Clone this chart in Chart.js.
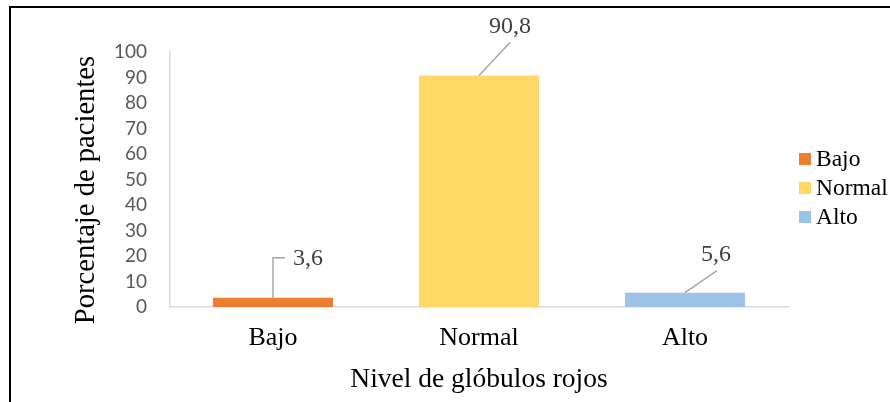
<!DOCTYPE html>
<html lang="es">

<head>
  <meta charset="UTF-8">
  <title>Nivel de glóbulos rojos</title>
  <script src="https://cdn.jsdelivr.net/npm/chart.js"></script>
  <style>
    body { margin: 0; background: #fff; overflow: hidden; }
    .marco { position: absolute; left: 9px; top: 6px; width: 1000px; height: 500px;
      border-top: 2px solid #000; border-left: 2px solid #000; }
    canvas { position: absolute; left: 0; top: 0; }
  </style>
</head>

<body>
  <div class="marco"></div>
  <canvas id="myChart" width="890" height="402"></canvas>

<script>
  // datos
  const categorias = ['Bajo', 'Normal', 'Alto'];
  const porcentajes = [3.6, 90.8, 5.6];
  const etiquetas = ['3,6', '90,8', '5,6'];
  const ticksY = [0, 10, 20, 30, 40, 50, 60, 70, 80, 90, 100];
  const tituloY = 'Porcentaje de pacientes';

  const colores = ['#ED7D31', '#FFD966', '#9DC3E6'];
  const serif = '"Liberation Serif", "Times New Roman", serif';

  // desplazamiento de cada etiqueta respecto a la parte superior de su barra
  // tipo 'codo' = linea vertical + horizontal, 'recta' = linea diagonal
  const guias = [
    { tipo: 'codo', fx: 12, fy: -40, tx: 35, ty: -39 },
    { tipo: 'recta', fx: 31, fy: -33, tx: 31, ty: -49 },
    { tipo: 'recta', fx: 32, fy: -22, tx: 31, ty: -38 }
  ];

  const pluginEtiquetas = {
    id: 'etiquetas',
    afterDatasetsDraw(chart) {
      const ctx = chart.ctx;
      const barras = chart.getDatasetMeta(0).data;
      ctx.save();
      barras.forEach(function (b, i) {
        const g = guias[i];
        ctx.strokeStyle = '#A6A6A6';
        ctx.lineWidth = 1.5;
        ctx.beginPath();
        ctx.moveTo(b.x, b.y);
        if (g.tipo == 'codo') {
          ctx.lineTo(b.x, b.y + g.fy);
          ctx.lineTo(b.x + g.fx, b.y + g.fy);
        } else {
          ctx.lineTo(b.x + g.fx, b.y + g.fy);
        }
        ctx.stroke();
        ctx.fillStyle = '#404040';
        ctx.font = '24px ' + serif;
        ctx.textAlign = 'center';
        ctx.textBaseline = 'middle';
        ctx.fillText(etiquetas[i], b.x + g.tx, b.y + g.ty);
      });
      ctx.restore();
    }
  };

  // leyenda y titulo del eje Y dibujados a mano
  const pluginLeyenda = {
    id: 'leyenda',
    afterDraw(chart) {
      const ctx = chart.ctx;
      const x = chart.chartArea.right + 11;
      ctx.save();
      ctx.font = '23.5px ' + serif;
      ctx.textAlign = 'left';
      ctx.textBaseline = 'middle';
      categorias.forEach(function (c, i) {
        const y = 159 + i * 29;
        ctx.fillStyle = colores[i];
        ctx.fillRect(x, y - 6, 12, 12);
        ctx.fillStyle = '#000';
        ctx.fillText(c, x + 17, y + 1);
      });

      ctx.translate(86, 190);
      ctx.rotate(-Math.PI / 2);
      ctx.font = '28.6px ' + serif;
      ctx.textAlign = 'center';
      ctx.fillText(tituloY, 0, 0);
      ctx.restore();
    }
  };

  const ctx = document.getElementById('myChart');

  new Chart(ctx, {
    type: 'bar',
    data: {
      labels: categorias,
      datasets: [{
        label: tituloY,
        data: porcentajes,
        backgroundColor: colores,
        borderWidth: 0,
        categoryPercentage: 1,
        barPercentage: 0.583
      }]
    },
    options: {
      responsive: false,
      animation: false,
      devicePixelRatio: 1,
      layout: { padding: { top: 52, right: 102, bottom: 0, left: 0 } },
      plugins: {
        legend: { display: false },
        tooltip: { enabled: false }
      },
      scales: {
        x: {
          grid: { display: false, drawTicks: false },
          border: { display: true, color: '#D9D9D9', width: 1.5 },
          ticks: { color: '#000', padding: 16, font: { family: serif, size: 26 } },
          title: {
            display: true, text: 'Nivel de glóbulos rojos', color: '#000',
            font: { family: serif, size: 27.5 }, padding: { top: 0, bottom: 6 }
          },
          afterFit(scale) { scale.height = 95; }
        },
        y: {
          min: 0, max: 100,
          afterBuildTicks(scale) { scale.ticks = ticksY.map(v => ({ value: v })); },
          grid: { display: false, drawTicks: false },
          border: { display: true, color: '#D9D9D9', width: 1.5 },
          ticks: { color: '#595959', padding: 23, autoSkip: false, font: { family: 'Lato', size: 19 } },
          afterFit(scale) { scale.width = 170; }
        }
      }
    },
    plugins: [pluginEtiquetas, pluginLeyenda]
  });
</script>
</body>

</html>
